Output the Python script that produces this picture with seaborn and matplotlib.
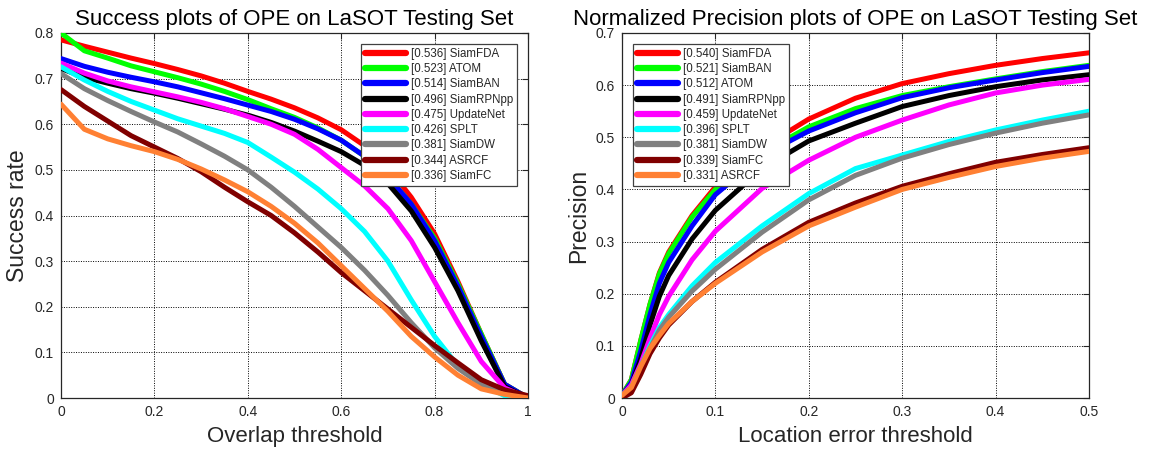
import numpy as np
import pandas as pd
import matplotlib
matplotlib.use("Agg")
import matplotlib.pyplot as plt
import seaborn as sns
from matplotlib.ticker import FuncFormatter

# ---------------- Success plot data ----------------
succ_thr = [0.0, 0.05, 0.1, 0.15, 0.2, 0.25, 0.3, 0.35, 0.4, 0.45, 0.5,
            0.55, 0.6, 0.65, 0.7, 0.75, 0.8, 0.85, 0.9, 0.95, 1.0]
succ_names = ["SiamFDA", "ATOM", "SiamBAN", "SiamRPNpp", "UpdateNet",
              "SPLT", "SiamDW", "ASRCF", "SiamFC"]
succ_auc = ["0.536", "0.523", "0.514", "0.496", "0.475", "0.426", "0.381", "0.344", "0.336"]
succ_siamfda = [0.785, 0.771, 0.758, 0.745, 0.733, 0.720, 0.706, 0.690, 0.672, 0.655, 0.636,
                0.614, 0.588, 0.553, 0.505, 0.440, 0.360, 0.255, 0.140, 0.030, 0.0]
succ_atom = [0.800, 0.761, 0.745, 0.728, 0.715, 0.702, 0.688, 0.672, 0.654, 0.634, 0.615,
             0.592, 0.565, 0.530, 0.485, 0.425, 0.350, 0.250, 0.140, 0.030, 0.0]
succ_siamban = [0.744, 0.727, 0.714, 0.703, 0.693, 0.682, 0.669, 0.656, 0.642, 0.628, 0.611,
                0.590, 0.565, 0.530, 0.485, 0.425, 0.345, 0.245, 0.135, 0.030, 0.0]
succ_siamrpnpp = [0.722, 0.703, 0.690, 0.678, 0.668, 0.657, 0.645, 0.633, 0.620, 0.604, 0.585,
                  0.563, 0.540, 0.510, 0.470, 0.410, 0.330, 0.235, 0.125, 0.025, 0.0]
succ_updatenet = [0.734, 0.712, 0.695, 0.682, 0.671, 0.660, 0.648, 0.634, 0.617, 0.600, 0.578,
                  0.545, 0.505, 0.465, 0.415, 0.345, 0.255, 0.165, 0.080, 0.022, 0.0]
succ_splt = [0.726, 0.697, 0.672, 0.650, 0.631, 0.612, 0.596, 0.580, 0.560, 0.528, 0.495,
             0.458, 0.415, 0.365, 0.300, 0.215, 0.135, 0.070, 0.030, 0.005, 0.0]
succ_siamdw = [0.711, 0.678, 0.652, 0.628, 0.605, 0.583, 0.557, 0.530, 0.500, 0.462, 0.420,
               0.375, 0.330, 0.280, 0.225, 0.165, 0.110, 0.065, 0.030, 0.012, 0.0]
succ_asrcf = [0.676, 0.639, 0.607, 0.575, 0.550, 0.525, 0.496, 0.462, 0.430, 0.400, 0.362,
              0.320, 0.275, 0.235, 0.195, 0.155, 0.115, 0.077, 0.040, 0.018, 0.005]
succ_siamfc = [0.644, 0.589, 0.568, 0.553, 0.540, 0.523, 0.502, 0.478, 0.452, 0.420, 0.383,
               0.340, 0.290, 0.240, 0.190, 0.135, 0.090, 0.050, 0.020, 0.008, 0.0]
succ_values = [succ_siamfda, succ_atom, succ_siamban, succ_siamrpnpp, succ_updatenet,
               succ_splt, succ_siamdw, succ_asrcf, succ_siamfc]
succ_colors = ["#ff0000", "#00ff00", "#0000ff", "#000000", "#ff00ff",
               "#00ffff", "#808080", "#800000", "#ff8033"]

# ---------------- Normalized precision data ----------------
prec_thr = [0.0, 0.01, 0.02, 0.03, 0.04, 0.05, 0.075, 0.1, 0.15, 0.2,
            0.25, 0.3, 0.35, 0.4, 0.45, 0.5]
prec_names = ["SiamFDA", "SiamBAN", "ATOM", "SiamRPNpp", "UpdateNet",
              "SPLT", "SiamDW", "SiamFC", "ASRCF"]
prec_auc = ["0.540", "0.521", "0.512", "0.491", "0.459", "0.396", "0.381", "0.339", "0.331"]
prec_siamfda = [0.005, 0.035, 0.110, 0.180, 0.240, 0.280, 0.350, 0.405, 0.480, 0.535,
                0.575, 0.603, 0.622, 0.638, 0.651, 0.662]
prec_siamban = [0.005, 0.035, 0.110, 0.180, 0.238, 0.277, 0.347, 0.400, 0.470, 0.520,
                0.555, 0.580, 0.597, 0.612, 0.626, 0.638]
prec_atom = [0.005, 0.030, 0.090, 0.160, 0.220, 0.260, 0.330, 0.390, 0.465, 0.512,
             0.547, 0.576, 0.595, 0.610, 0.624, 0.636]
prec_siamrpnpp = [0.005, 0.025, 0.075, 0.140, 0.195, 0.235, 0.305, 0.360, 0.440, 0.493,
                  0.527, 0.559, 0.580, 0.597, 0.610, 0.620]
prec_updatenet = [0.005, 0.025, 0.065, 0.115, 0.160, 0.195, 0.265, 0.320, 0.402, 0.456,
                  0.500, 0.533, 0.562, 0.585, 0.600, 0.611]
prec_splt = [0.005, 0.020, 0.060, 0.100, 0.135, 0.160, 0.215, 0.260, 0.330, 0.392,
             0.440, 0.466, 0.492, 0.514, 0.533, 0.550]
prec_siamdw = [0.005, 0.020, 0.060, 0.095, 0.130, 0.155, 0.205, 0.247, 0.318, 0.380,
               0.427, 0.460, 0.486, 0.508, 0.527, 0.543]
prec_siamfc = [0.0, 0.010, 0.045, 0.085, 0.115, 0.140, 0.185, 0.222, 0.285, 0.337,
               0.374, 0.406, 0.430, 0.452, 0.467, 0.480]
prec_asrcf = [0.005, 0.020, 0.060, 0.095, 0.120, 0.143, 0.185, 0.220, 0.280, 0.330,
              0.366, 0.400, 0.423, 0.444, 0.460, 0.473]
prec_values = [prec_siamfda, prec_siamban, prec_atom, prec_siamrpnpp, prec_updatenet,
               prec_splt, prec_siamdw, prec_siamfc, prec_asrcf]
prec_colors = ["#ff0000", "#00ff00", "#0000ff", "#000000", "#ff00ff",
               "#00ffff", "#808080", "#800000", "#ff8033"]

succ_xticks = [0, 0.2, 0.4, 0.6, 0.8, 1.0]
succ_yticks = [0, 0.1, 0.2, 0.3, 0.4, 0.5, 0.6, 0.7, 0.8]
prec_xticks = [0, 0.1, 0.2, 0.3, 0.4, 0.5]
prec_yticks = [0, 0.1, 0.2, 0.3, 0.4, 0.5, 0.6, 0.7]

sns.set_theme(style="white")
plt.rcParams["font.family"] = ["Liberation Sans", "DejaVu Sans"]

fig = plt.figure(figsize=(11.57, 4.53), dpi=100)
ax1 = fig.add_axes([61 / 1157, 55 / 453, 467 / 1157, 365 / 453])
ax2 = fig.add_axes([622 / 1157, 55 / 453, 467 / 1157, 365 / 453])

fmt = FuncFormatter(lambda v, p: "0" if abs(v) < 1e-9 else ("%g" % round(v, 3)))


def draw(ax, thr, names, aucs, values, colors, title, xlabel, ylabel,
         xticks, yticks, xlim, ylim, legloc):
    for name, auc, vals, col in zip(names, aucs, values, colors):
        df = pd.DataFrame({"x": thr, "y": vals})
        sns.lineplot(data=df, x="x", y="y", color=col, lw=3.6, ax=ax,
                     label="[%s] %s" % (auc, name), zorder=3)
    ax.set_xlim(*xlim)
    ax.set_ylim(*ylim)
    ax.set_xticks(xticks)
    ax.set_yticks(yticks)
    ax.xaxis.set_major_formatter(fmt)
    ax.yaxis.set_major_formatter(fmt)
    ax.grid(True, color="black", linestyle=(0, (1, 1.5)), lw=0.7, zorder=0)
    ax.tick_params(direction="in", top=True, right=True, length=4, width=0.8,
                   labelsize=10, colors="#262626", pad=5)
    for s in ax.spines.values():
        s.set_color("#262626")
        s.set_linewidth(0.9)
    ax.set_title(title, fontsize=16, color="black", pad=6)
    ax.set_xlabel(xlabel, fontsize=16, color="#262626", labelpad=5)
    ax.set_ylabel(ylabel, fontsize=16.5, color="#262626", labelpad=4)
    leg = ax.legend(loc=legloc, fontsize=8.3, handlelength=3.6, labelspacing=0.28,
                    handletextpad=0.4, borderpad=0.35, borderaxespad=0.95,
                    fancybox=False, framealpha=1, edgecolor="#404040")
    leg.get_frame().set_linewidth(0.9)
    for line in leg.get_lines():
        line.set_linewidth(4.5)


draw(ax1, succ_thr, succ_names, succ_auc, succ_values, succ_colors,
     "Success plots of OPE on LaSOT Testing Set", "Overlap threshold", "Success rate",
     succ_xticks, succ_yticks, (0, 1), (0, 0.8), "upper right")
draw(ax2, prec_thr, prec_names, prec_auc, prec_values, prec_colors,
     "Normalized Precision plots of OPE on LaSOT Testing Set", "Location error threshold",
     "Precision", prec_xticks, prec_yticks, (0, 0.5), (0, 0.7), "upper left")

fig.savefig("out.png", dpi=100, facecolor="white")
